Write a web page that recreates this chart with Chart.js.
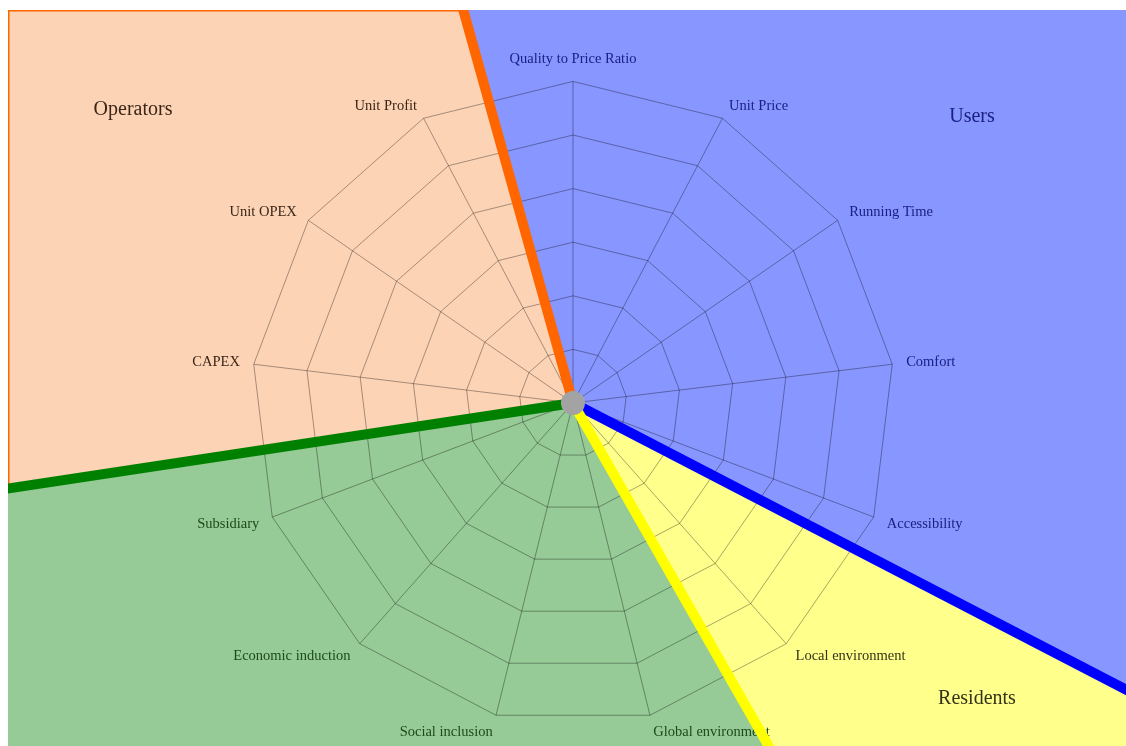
<!DOCTYPE html>
<html lang="en">
<head>
  <meta charset="UTF-8">
  <title>Stakeholder radar</title>
  <script src="https://cdn.jsdelivr.net/npm/chart.js"></script>
  <style>
    body { margin: 0; background: #fff; }
    #wrap { width: 1126px; height: 746px; }
  </style>
</head>
<body>
  <div id="wrap"><canvas id="radar" width="1126" height="746"></canvas></div>

  <script>
    // criteria, clockwise from the top
    const criteria = [
      'Quality to Price Ratio', 'Unit Price', 'Running Time', 'Comfort', 'Accessibility',
      'Local environment', 'Global environment', 'Social inclusion', 'Economic induction',
      'Subsidiary', 'CAPEX', 'Unit OPEX', 'Unit Profit'
    ];
    // stakeholder groups and the scale rings
    const groupNames = ['Users', 'Residents', '', 'Operators'];
    const ringMax = 6;

    // look of the coloured sectors (angles clockwise from the top, degrees)
    const sectorStyle = [
      { from: 344.4, to: 477.4, fill: '#8896ff', line: '#0000ff', text: '#1b2184', title: [972, 117] },
      { from: 117.4, to: 150.3, fill: '#ffff8c', line: '#ffff00', text: '#33331a', title: [977, 699] },
      { from: 150.3, to: 261.4, fill: '#96ca96', line: '#008000', text: '#1d4a1d', title: null },
      { from: 261.4, to: 344.4, fill: '#fdd3b5', line: '#ff6600', text: '#3a2618', title: [133, 110] }
    ];
    const frame = { x: 8, y: 10, w: 1118, h: 736 };

    const rad = d => (d - 90) * Math.PI / 180;
    const labelAngle = i => i * 360 / criteria.length;

    function sectorOf(deg) {
      return sectorStyle.find(st => {
        const d = deg < st.from ? deg + 360 : deg;
        return d >= st.from && d < st.to;
      }) || sectorStyle[0];
    }

    // labels sit centred on their anchor, except the top one (above it)
    // and the lower ones (a little below it)
    function labelLineHeight(i) {
      const a = labelAngle(i);
      if (a === 0) return 1.2;
      if (Math.abs(a - 180) < 30) return 0.45;
      if (a > 90 && a < 270) return 0.28;
      return 0;
    }

    function sectorPath(ctx, cx, cy, st) {
      ctx.beginPath();
      ctx.moveTo(cx, cy);
      ctx.arc(cx, cy, 3000, rad(st.from), rad(st.to));
      ctx.closePath();
    }

    const sectorPlugin = {
      id: 'sectors',
      beforeDraw(chart) {
        const ctx = chart.ctx;
        const s = chart.scales.r;
        ctx.save();
        ctx.fillStyle = '#fff';
        ctx.fillRect(0, 0, chart.width, chart.height);
        ctx.beginPath();
        ctx.rect(frame.x, frame.y, frame.w, frame.h);
        ctx.clip();
        sectorStyle.forEach(st => {
          sectorPath(ctx, s.xCenter, s.yCenter, st);
          ctx.fillStyle = st.fill;
          ctx.fill();
        });
        // thin orange frame around the operators sector
        const op = sectorStyle[3];
        sectorPath(ctx, s.xCenter, s.yCenter, op);
        ctx.clip();
        ctx.strokeStyle = op.line;
        ctx.lineWidth = 3;
        ctx.strokeRect(frame.x, frame.y, frame.w, frame.h);
        ctx.restore();
      },
      afterDraw(chart) {
        const ctx = chart.ctx;
        const s = chart.scales.r;
        const cx = s.xCenter, cy = s.yCenter;

        ctx.save();
        ctx.beginPath();
        ctx.rect(frame.x, frame.y, frame.w, frame.h);
        ctx.clip();

        // boundary lines
        ctx.lineWidth = 10;
        sectorStyle.forEach(st => {
          const a = rad(st.to);
          ctx.beginPath();
          ctx.moveTo(cx, cy);
          ctx.lineTo(cx + 3000 * Math.cos(a), cy + 3000 * Math.sin(a));
          ctx.strokeStyle = st.line;
          ctx.stroke();
        });

        // hub
        ctx.beginPath();
        ctx.arc(cx, cy, 12, 0, Math.PI * 2);
        ctx.fillStyle = '#a3a3a3';
        ctx.fill();

        // group titles
        ctx.font = '20px "Liberation Serif"';
        ctx.textAlign = 'center';
        ctx.textBaseline = 'middle';
        sectorStyle.forEach((st, i) => {
          if (!st.title || !groupNames[i]) return;
          ctx.fillStyle = st.text;
          ctx.fillText(groupNames[i], st.title[0], st.title[1]);
        });
        ctx.restore();
      }
    };

    new Chart(document.getElementById('radar'), {
      type: 'radar',
      data: {
        labels: criteria,
        datasets: []
      },
      options: {
        responsive: false,
        animation: false,
        layout: { padding: { left: 20, top: 40, right: 0, bottom: 0 } },
        plugins: { legend: { display: false }, tooltip: { enabled: false } },
        scales: {
          r: {
            min: 0,
            max: ringMax,
            ticks: { display: false, stepSize: 1 },
            grid: { color: 'rgba(0,0,0,0.34)', lineWidth: 1 },
            angleLines: { color: 'rgba(0,0,0,0.34)', lineWidth: 1 },
            pointLabels: {
              color: c => sectorOf(labelAngle(c.index)).text,
              padding: 14,
              font: c => ({ family: '"Liberation Serif"', size: 14.5, lineHeight: labelLineHeight(c.index) })
            }
          }
        }
      },
      plugins: [sectorPlugin]
    });
  </script>
</body>
</html>
